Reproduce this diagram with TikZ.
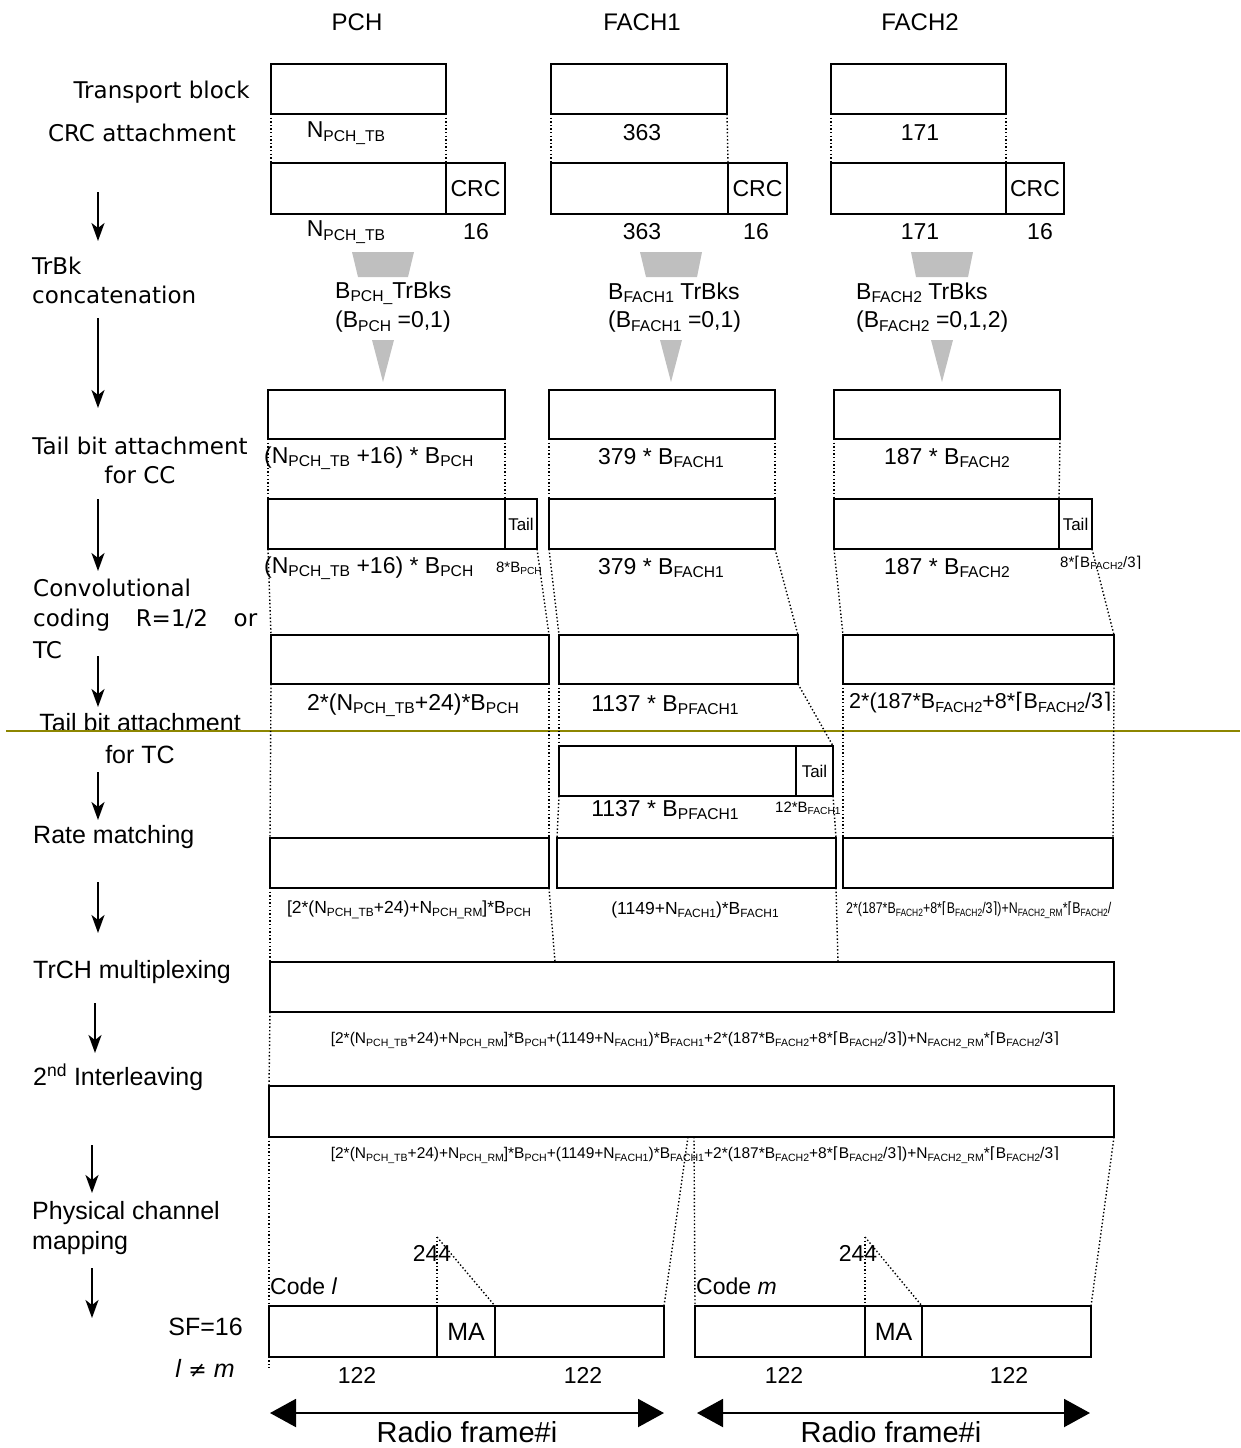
\documentclass[tikz,border=0pt]{standalone}
\usepackage{fontspec}
\setmainfont{Liberation Sans}
\newfontfamily\dv{DejaVu Sans}
\usepackage{graphicx}
\usetikzlibrary{fit,arrows.meta}
\newcommand\lo[1]{\raisebox{-0.15em}{\scalebox{0.68}{#1}}}
\newcommand\fs[2]{\fontsize{#1}{#2}\selectfont}
\newcommand\lc{{\dv\char"2308}}
\newcommand\rc{{\dv\char"2309}}
\tikzset{
  bx/.style={draw, line width=1.8pt, inner sep=0pt, outer sep=0pt},
  sbx/.style={draw, line width=1.5pt, inner sep=0pt, outer sep=0pt},
  dot/.style={line width=1.4pt, dash pattern=on 1.4pt off 2.2pt},
  lab/.style={inner sep=0pt, font=\fs{23}{27}},
  hdr/.style={inner sep=0pt, font=\fs{24}{28}},
  sm/.style={inner sep=0pt, font=\fs{15}{18}},
  tiny/.style={inner sep=0pt, font=\fs{15.5}{18}},
  rml/.style={inner sep=0pt, font=\fs{17.5}{20}},
  taillab/.style={inner sep=0pt, font=\fs{17}{20}},
  stage/.style={inner sep=0pt, font=\fs{25}{31}},
  wide/.style={inner sep=0pt, font=\dv\fs{23}{29}},
  flow/.style={line width=2pt, -{Stealth[length=18pt,width=13pt,inset=5pt]}},
  funnel/.style={fill=gray!50},
  olv/.style={draw=olive, line width=2pt},
  big/.style={line width=2pt, {Triangle[length=26pt,width=28pt]}-{Triangle[length=26pt,width=28pt]}},
}
\begin{document}
\begin{tikzpicture}[x=1pt,y=-1pt]
\useasboundingbox (0,0) rectangle (1240,1448);

% headers
\node[hdr] (hP) at (357,22) {PCH};
\node[hdr] (hA) at (642,22) {FACH1};
\node[hdr] (hB) at (920,22) {FACH2};

% stage labels
\node[wide, anchor=east] (s1) at (250,92) {Transport block};
\node[wide] (s2) at (142,133) {CRC attachment};
\node[wide, anchor=west] (s3a) at (32,266) {TrBk};
\node[wide, anchor=west] (s3b) at (32,295) {concatenation};
\node[wide] (s4a) at (140,446) {Tail bit attachment};
\node[wide] (s4b) at (140,475) {for CC};
\node[wide, anchor=west] (s5a) at (33,588) {Convolutional};
\node[wide, anchor=west] (s5b) at (33,620) {\makebox[224pt][s]{coding R=1/2 or}};
\node[wide, anchor=west] (s5c) at (33,650) {TC};
\node[stage] (s6a) at (140,723) {Tail bit attachment};
\node[stage] (s6b) at (140,755) {for TC};
\node[stage, anchor=west] (s7) at (33,837) {Rate matching};
\node[stage, anchor=west] (s8) at (33,972) {TrCH multiplexing};
\node[stage, anchor=west] (s9) at (33,1077) {2\textsuperscript{nd} Interleaving};
\node[stage, anchor=west] (s10a) at (32,1213) {Physical channel};
\node[stage, anchor=west] (s10b) at (32,1243) {mapping};
\node[stage, anchor=east] (sf) at (243,1327) {SF=16};
\node[stage] (lm) at (205,1368) {\textit{l} {\dv\fs{22}{26}≠} \textit{m}};

% flow arrows
\draw[flow] (98,192) -- (98,241);
\draw[flow] (98,318) -- (98,408);
\draw[flow] (98,499) -- (98,571);
\draw[flow] (98,656) -- (98,707);
\draw[flow] (98,772) -- (98,820);
\draw[flow] (98,882) -- (98,933);
\draw[flow] (95,1003) -- (95,1053);
\draw[flow] (92,1145) -- (92,1193);
\draw[flow] (92,1268) -- (92,1318);

% olive line
\draw[olv] (6,731) -- (1240,731);

% row 1: transport blocks
\node[bx, fit={(271,64)(446,114)}] (pTB) {};
\node[bx, fit={(551,64)(727,114)}] (aTB) {};
\node[bx, fit={(831,64)(1006,114)}] (bTB) {};
\node[lab] at (346,133) {N\lo{PCH\_TB}};
\node[lab] at (642,133) {363};
\node[lab] at (920,133) {171};

% row 2: CRC
\node[bx, fit={(271,163)(446,214)}] (pD) {};
\node[bx, fit={(446,163)(505,214)}] (pC) {};
\node[bx, fit={(551,163)(728,214)}] (aD) {};
\node[bx, fit={(728,163)(787,214)}] (aC) {};
\node[bx, fit={(831,163)(1006,214)}] (bD) {};
\node[bx, fit={(1006,163)(1064,214)}] (bC) {};
\node[lab] at (pC.center) {CRC};
\node[lab] at (aC.center) {CRC};
\node[lab] at (bC.center) {CRC};
\draw[dot] (pTB.south west) -- (pD.north west);
\draw[dot] (pTB.south east) -- (pD.north east);
\draw[dot] (aTB.south west) -- (aD.north west);
\draw[dot] (aTB.south east) -- (aD.north east);
\draw[dot] (bTB.south west) -- (bD.north west);
\draw[dot] (bTB.south east) -- (bD.north east);
\node[lab] at (346,232) {N\lo{PCH\_TB}};
\node[lab] at (476,232) {16};
\node[lab] at (642,232) {363};
\node[lab] at (756,232) {16};
\node[lab] at (920,232) {171};
\node[lab] at (1040,232) {16};

% funnels
\fill[funnel] (352,252) -- (414,252) -- (408,277) -- (358,277) -- cycle;
\fill[funnel] (640,252) -- (702,252) -- (697,277) -- (646,277) -- cycle;
\fill[funnel] (911,252) -- (973,252) -- (968,277) -- (916,277) -- cycle;
\fill[funnel] (372,340) -- (394,340) -- (383,382) -- cycle;
\fill[funnel] (660,340) -- (682,340) -- (671,382) -- cycle;
\fill[funnel] (931,340) -- (953,340) -- (942,382) -- cycle;
\node[lab, anchor=west] at (335,293) {B\lo{PCH\_}TrBks};
\node[lab, anchor=west] at (335,322) {(B\lo{PCH} =0,1)};
\node[lab, anchor=west] at (608,293) {B\lo{FACH1} TrBks};
\node[lab, anchor=west] at (608,322) {(B\lo{FACH1} =0,1)};
\node[lab, anchor=west] at (856,293) {B\lo{FACH2} TrBks};
\node[lab, anchor=west] at (856,322) {(B\lo{FACH2} =0,1,2)};

% row 3: concatenated
\node[bx, fit={(268,390)(505,439)}] (pB3) {};
\node[bx, fit={(549,390)(775,439)}] (aB3) {};
\node[bx, fit={(834,390)(1060,439)}] (bB3) {};
\node[lab, anchor=west] at (264,458) {(N\lo{PCH\_TB} +16) * B\lo{PCH}};
\node[lab] at (661,458) {379 * B\lo{FACH1}};
\node[lab] at (947,458) {187 * B\lo{FACH2}};

% row 4: tail for CC
\node[bx, fit={(268,499)(505,549)}] (pB4) {};
\node[bx, fit={(505,499)(537,549)}] (pT4) {};
\node[bx, fit={(549,499)(775,549)}] (aB4) {};
\node[bx, fit={(834,499)(1059,549)}] (bB4) {};
\node[bx, fit={(1059,499)(1092,549)}] (bT4) {};
\node[taillab] at (pT4.center) {Tail};
\node[taillab] at (bT4.center) {Tail};
\draw[dot] (pB3.south west) -- (pB4.north west);
\draw[dot] (pB3.south east) -- (pB4.north east);
\draw[dot] (aB3.south west) -- (aB4.north west);
\draw[dot] (aB3.south east) -- (aB4.north east);
\draw[dot] (bB3.south west) -- (bB4.north west);
\draw[dot] (bB3.south east) -- (bB4.north east);
\node[lab, anchor=west] at (264,568) {(N\lo{PCH\_TB} +16) * B\lo{PCH}};
\node[sm] at (519,568) {8*B\lo{PCH}};
\node[lab] at (661,568) {379 * B\lo{FACH1}};
\node[lab] at (947,568) {187 * B\lo{FACH2}};
\node[sm, anchor=west] at (1060,563) {8*\lc B\lo{FACH2}/3\rc};

% row 5: coding
\node[bx, fit={(271,635)(549,684)}] (pB5) {};
\node[bx, fit={(559,635)(798,684)}] (aB5) {};
\node[bx, fit={(843,635)(1114,684)}] (bB5) {};
\draw[dot] (pB4.south west) -- (pB5.north west);
\draw[dot] (pT4.south east) -- (pB5.north east);
\draw[dot] (aB4.south west) -- (aB5.north west);
\draw[dot] (aB4.south east) -- (aB5.north east);
\draw[dot] (bB4.south west) -- (bB5.north west);
\draw[dot] (bT4.south east) -- (bB5.north east);
\node[lab] at (413,705) {2*(N\lo{PCH\_TB}+24)*B\lo{PCH}};
\node[lab] at (665,705) {1137 * B\lo{PFACH1}};
\node[lab, anchor=west, font=\fs{21.5}{25}] at (849,703) {2*(187*B\lo{FACH2}+8*\lc B\lo{FACH2}/3\rc};

% row 6: tail for TC
\node[bx, fit={(559,746)(796,796)}] (aTC) {};
\node[bx, fit={(796,746)(833,796)}] (aTT) {};
\node[taillab] at (aTT.center) {Tail};
\node[lab] at (665,810) {1137 * B\lo{PFACH1}};
\node[sm, anchor=west] at (775,808) {12*B\lo{FACH1}};

% row 7: rate matching
\node[bx, fit={(270,838)(549,888)}] (pRM) {};
\node[bx, fit={(557,838)(836,888)}] (aRM) {};
\node[bx, fit={(843,838)(1113,888)}] (bRM) {};
\draw[dot] (pB5.south west) -- (pRM.north west);
\draw[dot] (pB5.south east) -- (pRM.north east);
\draw[dot] (aB5.south west) -- (aTC.north west);
\draw[dot] (aB5.south east) -- (aTT.north east);
\draw[dot] (aTC.south west) -- (aRM.north west);
\draw[dot] (aTT.south east) -- (aRM.north east);
\draw[dot] (bB5.south west) -- (bRM.north west);
\draw[dot] (bB5.south east) -- (bRM.north east);
\node[rml] at (409,910) {[2*(N\lo{PCH\_TB}+24)+N\lo{PCH\_RM}]*B\lo{PCH}};
\node[rml] at (695,910) {(1149+N\lo{FACH1})*B\lo{FACH1}};
\node[tiny, anchor=west] at (846,910) {\scalebox{0.8}[1]{2*(187*B\lo{FACH2}+8*\lc B\lo{FACH2}/3\rc)+N\lo{FACH2\_RM}*\lc B\lo{FACH2}/}};

% row 8: multiplexing
\node[bx, fit={(270,962)(1114,1012)}] (mux) {};
\coordinate (mx1) at (555,962);
\coordinate (mx2) at (838,962);
\draw[dot] (pRM.south west) -- (mux.north west);
\draw[dot] (pRM.south east) -- (mx1);
\draw[dot] (aRM.south east) -- (mx2);
\node[tiny] at (695,1040) {[2*(N\lo{PCH\_TB}+24)+N\lo{PCH\_RM}]*B\lo{PCH}+(1149+N\lo{FACH1})*B\lo{FACH1}+2*(187*B\lo{FACH2}+8*\lc B\lo{FACH2}/3\rc)+N\lo{FACH2\_RM}*\lc B\lo{FACH2}/3\rc};

% row 9: interleaving
\node[bx, fit={(269,1086)(1114,1137)}] (il) {};
\draw[dot] (mux.south west) -- (il.north west);
\node[tiny] at (695,1155) {[2*(N\lo{PCH\_TB}+24)+N\lo{PCH\_RM}]*B\lo{PCH}+(1149+N\lo{FACH1})*B\lo{FACH1}+2*(187*B\lo{FACH2}+8*\lc B\lo{FACH2}/3\rc)+N\lo{FACH2\_RM}*\lc B\lo{FACH2}/3\rc};

% row 10: physical channels
\node[sbx, fit={(269,1306)(437,1357)}] (sL1) {};
\node[sbx, fit={(437,1306)(495,1357)}] (ma1) {};
\node[sbx, fit={(495,1306)(664,1357)}] (sR1) {};
\node[sbx, fit={(695,1306)(865,1357)}] (sL2) {};
\node[sbx, fit={(865,1306)(922,1357)}] (ma2) {};
\node[sbx, fit={(922,1306)(1091,1357)}] (sR2) {};
\node[inner sep=0pt, font=\fs{25}{28}] at (ma1.center) {MA};
\node[inner sep=0pt, font=\fs{25}{28}] at (ma2.center) {MA};
\coordinate (ilA) at (688,1137);
\coordinate (ilB) at (694,1137);
\coordinate (lowL) at (269,1368);
\draw[dot] (il.south west) -- (lowL);
\draw[dot] (ilA) -- (sR1.north east);
\draw[dot] (ilB) -- (sL2.north west);
\draw[dot] (il.south east) -- (sR2.north east);
\coordinate (t1) at (437,1237);
\coordinate (t2) at (865,1237);
\draw[dot] (t1) -- (ma1.north west);
\draw[dot] (t1) -- (ma1.north east);
\draw[dot] (t2) -- (ma2.north west);
\draw[dot] (t2) -- (ma2.north east);
\node[lab] at (432,1253) {244};
\node[lab] at (858,1253) {244};
\node[lab, anchor=west] at (270,1286) {Code \textit{l}};
\node[lab, anchor=west] at (696,1286) {Code \textit{m}};
\node[lab] at (357,1375) {122};
\node[lab] at (583,1375) {122};
\node[lab] at (784,1375) {122};
\node[lab] at (1009,1375) {122};

% radio frames
\coordinate (r1a) at (270,1413);
\coordinate (r1b) at (664,1413);
\coordinate (r2a) at (697,1413);
\coordinate (r2b) at (1090,1413);
\draw[big] (r1a) -- (r1b);
\draw[big] (r2a) -- (r2b);
\node[inner sep=0pt, font=\fs{29}{34}] at (467,1432) {Radio frame\#i};
\node[inner sep=0pt, font=\fs{29}{34}] at (891,1432) {Radio frame\#i};
\end{tikzpicture}
\end{document}
